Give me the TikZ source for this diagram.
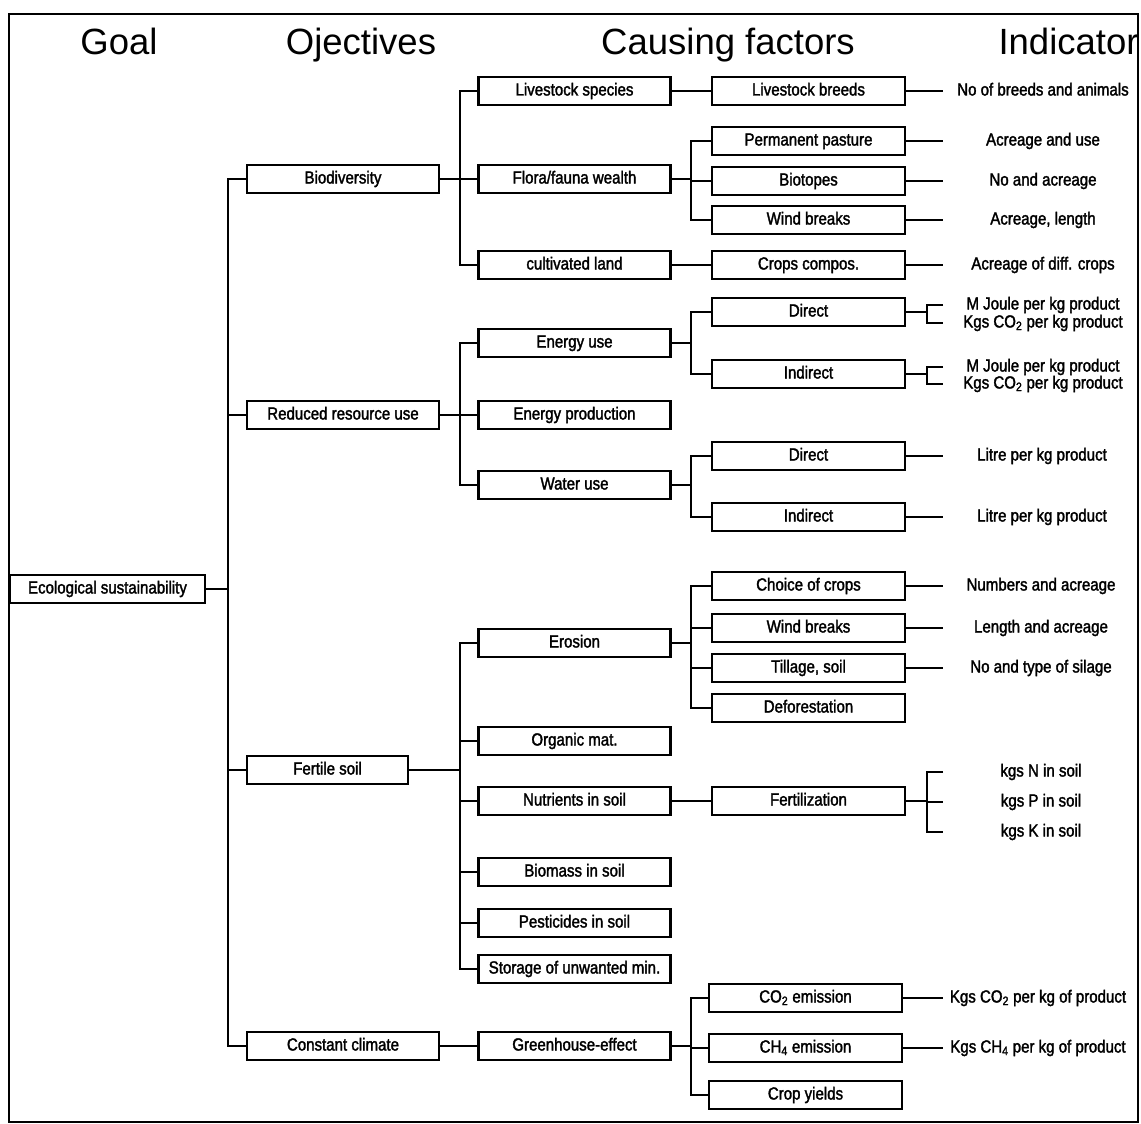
\documentclass[tikz,border=0pt]{standalone}
\usepackage{fontspec}
\setmainfont{Liberation Sans}
\newfontfamily\boxfont[FakeStretch=0.86,FakeBold=1.8]{Liberation Sans}
\tikzset{
  box/.style={draw,line width=2.2pt,minimum height=28,inner sep=0pt,
    text height=12.6,text depth=3.6,
    font=\boxfont\fontsize{17.5}{20}\selectfont},
  obj/.style={box,minimum width=192},
  fac/.style={box,minimum width=193},
  ind/.style={inner sep=0pt,text height=12.6,text depth=3.6,
    font=\boxfont\fontsize{17.5}{20}\selectfont},
  head/.style={anchor=base,font=\fontsize{36.5}{40}\selectfont},
  link/.style={line width=1.8pt}
}
\newcommand*{\lowix}[1]{\textsubscript{#1}}

\begin{document}
\begin{tikzpicture}[x=1pt,y=-1pt]
\useasboundingbox (0,0) rectangle (1141,1124);
\draw[line width=2pt] (9,14) rectangle (1138,1122);

% Headings
\node[head] (hgoal) at (119,55) {Goal};
\node[head] (hobj) at (361,55) {Ojectives};
\node[head] (hcause) at (728,55) {Causing factors};
\node[head,anchor=base west] (hind) at (995,55) {Indicator};

% Trunk and end points
\coordinate (j1) at (228,0);
\coordinate (j2) at (460,0);
\coordinate (j3) at (691,0);
\coordinate (br) at (927,0);
\coordinate (ie) at (943,0);

% Goal
\node[box,minimum width=195] (eco) at (107.5,589) {Ecological sustainability};

% Objectives
\node[obj] (bio) at (343,179) {Biodiversity};
\node[obj] (res) at (343,415) {Reduced resource use};
\node[box,minimum width=161] (soil) at (327.5,770) {Fertile soil};
\node[obj] (clim) at (343,1046) {Constant climate};

% Causing factors, first level
\node[obj] (lsp) at (574.5,91) {Livestock species};
\node[obj] (flora) at (574.5,179) {Flora/fauna wealth};
\node[obj] (cult) at (574.5,265) {cultivated land};
\node[obj] (enuse) at (574.5,343) {Energy use};
\node[obj] (enprod) at (574.5,415) {Energy production};
\node[obj] (water) at (574.5,485) {Water use};
\node[obj] (eros) at (574.5,643) {Erosion};
\node[obj] (orgm) at (574.5,741) {Organic mat.};
\node[obj] (nutr) at (574.5,801) {Nutrients in soil};
\node[obj] (biom) at (574.5,872) {Biomass in soil};
\node[obj] (pest) at (574.5,923) {Pesticides in soil};
\node[obj] (stor) at (574.5,969) {Storage of unwanted min.};
\node[obj] (green) at (574.5,1046) {Greenhouse-effect};

% Causing factors, second level
\node[fac] (breeds) at (808.5,91) {Livestock breeds};
\node[fac] (past) at (808.5,141) {Permanent pasture};
\node[fac] (biot) at (808.5,181) {Biotopes};
\node[fac] (wind) at (808.5,220) {Wind breaks};
\node[fac] (crops) at (808.5,265) {Crops compos.};
\node[fac] (edir) at (808.5,312) {Direct};
\node[fac] (eind) at (808.5,374) {Indirect};
\node[fac] (wdir) at (808.5,456) {Direct};
\node[fac] (wtind) at (808.5,517) {Indirect};
\node[fac] (choice) at (808.5,586) {Choice of crops};
\node[fac] (wbrk) at (808.5,628) {Wind breaks};
\node[fac] (till) at (808.5,668) {Tillage, soil};
\node[fac] (defor) at (808.5,708) {Deforestation};
\node[fac] (fert) at (808.5,801) {Fertilization};
\node[fac] (co) at (805.5,998) {CO\lowix{2} emission};
\node[fac] (ch) at (805.5,1048) {CH\lowix{4} emission};
\node[fac] (yield) at (805.5,1095) {Crop yields};

% Indicators
\node[ind] (ibreeds) at (1043,91) {No of breeds and animals};
\node[ind] (ipast) at (1043,141) {Acreage and use};
\node[ind] (ibiot) at (1043,181) {No and acreage};
\node[ind] (iwind) at (1043,220) {Acreage, length};
\node[ind] (icrops) at (1043,265) {Acreage of diff. crops};
\node[ind] (iedirA) at (1043,305) {M Joule per kg product};
\node[ind] (iedirB) at (1043,323) {Kgs CO\lowix{2} per kg product};
\node[ind] (ieindA) at (1043,367) {M Joule per kg product};
\node[ind] (ieindB) at (1043,384) {Kgs CO\lowix{2} per kg product};
\node[ind] (iwdir) at (1042,456) {Litre per kg product};
\node[ind] (iwind2) at (1042,517) {Litre per kg product};
\node[ind] (ichoice) at (1041,586) {Numbers and acreage};
\node[ind] (iwbrk) at (1041,628) {Length and acreage};
\node[ind] (itill) at (1041,668) {No and type of silage};
\node[ind] (iN) at (1041,772) {kgs N in soil};
\node[ind] (iP) at (1041,802) {kgs P in soil};
\node[ind] (iK) at (1041,832) {kgs K in soil};
\node[ind] (ico) at (1038,998) {Kgs CO\lowix{2} per kg of product};
\node[ind] (ich) at (1038,1048) {Kgs CH\lowix{4} per kg of product};

% Goal to objectives
\draw[link] (eco.east) -- (eco.east -| j1);
\draw[link] (bio.west) -| (clim.west -| j1) -- (clim.west);
\draw[link] (res.west) -- (res.west -| j1);
\draw[link] (soil.west) -- (soil.west -| j1);

% Biodiversity
\draw[link] (lsp.west) -| (cult.west -| j2) -- (cult.west);
\draw[link] (bio.east) -- (flora.west);
\draw[link] (lsp.east) -- (breeds.west);
\draw[link] (flora.east) -- (flora.east -| j3);
\draw[link] (past.west) -| (wind.west -| j3) -- (wind.west);
\draw[link] (biot.west) -- (biot.west -| j3);
\draw[link] (cult.east) -- (crops.west);
\foreach \n in {breeds,past,biot,wind,crops}
  \draw[link] (\n.east) -- (\n.east -| ie);

% Reduced resource use
\draw[link] (enuse.west) -| (water.west -| j2) -- (water.west);
\draw[link] (res.east) -- (enprod.west);
\draw[link] (enuse.east) -- (enuse.east -| j3);
\draw[link] (edir.west) -| (eind.west -| j3) -- (eind.west);
\draw[link] (water.east) -- (water.east -| j3);
\draw[link] (wdir.west) -| (wtind.west -| j3) -- (wtind.west);
\draw[link] (edir.east) -- (edir.east -| br);
\draw[link] (iedirA.west -| ie) -| (iedirB.west -| br) -- (iedirB.west -| ie);
\draw[link] (eind.east) -- (eind.east -| br);
\draw[link] (ieindA.west -| ie) -| (ieindB.west -| br) -- (ieindB.west -| ie);
\draw[link] (wdir.east) -- (wdir.east -| ie);
\draw[link] (wtind.east) -- (wtind.east -| ie);

% Fertile soil
\draw[link] (eros.west) -| (stor.west -| j2) -- (stor.west);
\draw[link] (soil.east) -- (soil.east -| j2);
\foreach \n in {orgm,nutr,biom,pest}
  \draw[link] (\n.west) -- (\n.west -| j2);
\draw[link] (eros.east) -- (eros.east -| j3);
\draw[link] (choice.west) -| (defor.west -| j3) -- (defor.west);
\draw[link] (wbrk.west) -- (wbrk.west -| j3);
\draw[link] (till.west) -- (till.west -| j3);
\foreach \n in {choice,wbrk,till}
  \draw[link] (\n.east) -- (\n.east -| ie);
\draw[link] (nutr.east) -- (fert.west);
\draw[link] (fert.east) -- (fert.east -| br);
\draw[link] (iN.west -| ie) -| (iK.west -| br) -- (iK.west -| ie);
\draw[link] (iP.west -| br) -- (iP.west -| ie);

% Constant climate
\draw[link] (clim.east) -- (green.west);
\draw[link] (green.east) -- (green.east -| j3);
\draw[link] (co.west) -| (yield.west -| j3) -- (yield.west);
\draw[link] (ch.west) -- (ch.west -| j3);
\draw[link] (co.east) -- (co.east -| ie);
\draw[link] (ch.east) -- (ch.east -| ie);
\end{tikzpicture}
\end{document}
